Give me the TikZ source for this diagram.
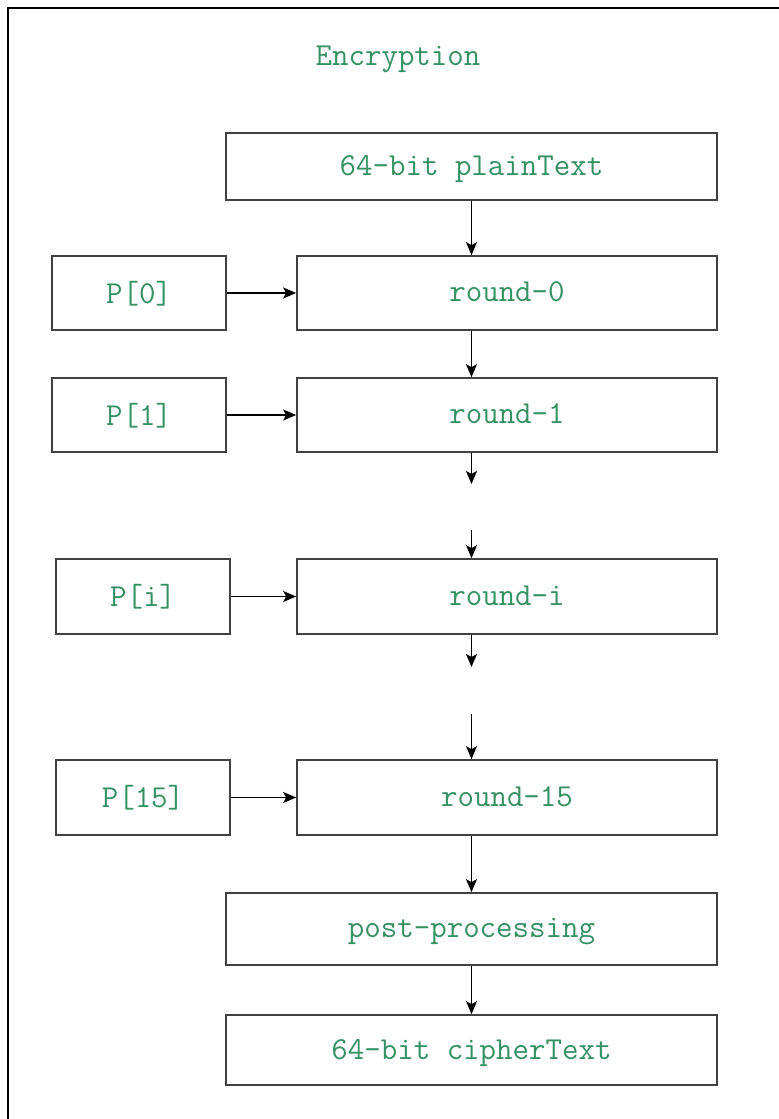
\documentclass[tikz,border=0pt]{standalone}
\usepackage{fontspec}
\usetikzlibrary{arrows.meta}
\definecolor{txtgreen}{RGB}{52,145,100}
\definecolor{boxgray}{RGB}{65,65,65}
\tikzset{
  lbl/.style={text=txtgreen, font=\ttfamily\fontsize{32}{34}\selectfont},
  blk/.style={draw=boxgray, line width=1.7pt, inner sep=0pt, anchor=center, lbl,
    text depth=2pt},
  keybox/.style={blk, minimum width=174pt, minimum height=74pt},
  roundbox/.style={blk, minimum width=420pt, minimum height=74pt},
  widebox/.style={blk, minimum width=491pt, minimum height=70pt},
  arr/.style={line width=1.6pt, -{Stealth[length=13pt,width=11pt,inset=3pt]}}
}
\begin{document}
\begin{tikzpicture}[x=1pt,y=-1pt]
\useasboundingbox (0,0) rectangle (779,1119);
\draw[line width=2pt] (8,1119) -- (8,8) -- (779,8);
\node[lbl] (title) at (398,59) {Encryption};
\node[widebox, minimum height=67pt] (plain) at (471.5,166.5) {64-bit plainText};
\node[keybox] (p0) at (139,293) {P[0]};
\node[roundbox] (r0) at (507,293) {round-0};
\node[keybox] (p1) at (139,415) {P[1]};
\node[roundbox] (r1) at (507,415) {round-1};
\node[keybox, minimum height=75pt] (pi) at (143,596.5) {P[i]};
\node[roundbox, minimum height=75pt] (ri) at (507,596.5) {round-i};
\node[keybox, minimum height=75pt] (p15) at (143,797.5) {P[15]};
\node[roundbox, minimum height=75pt] (r15) at (507,797.5) {round-15};
\node[widebox, minimum height=72pt] (post) at (471.5,929) {post-processing};
\node[widebox] (cipher) at (471.5,1050) {64-bit cipherText};
\coordinate (d1) at (471.5,484);
\coordinate (d2) at (471.5,530);
\coordinate (d3) at (471.5,667);
\coordinate (d4) at (471.5,714);
\draw[arr] (plain.south) -- (r0.north -| plain.south);
\draw[arr] (p0.east) -- (r0.west);
\draw[arr] (r0.south -| plain.south) -- (r1.north -| plain.south);
\draw[arr] (p1.east) -- (r1.west);
\draw[arr] (r1.south -| plain.south) -- (d1);
\draw[arr] (d2) -- (ri.north -| plain.south);
\draw[arr] (pi.east) -- (ri.west);
\draw[arr] (ri.south -| plain.south) -- (d3);
\draw[arr] (d4) -- (r15.north -| plain.south);
\draw[arr] (p15.east) -- (r15.west);
\draw[arr] (r15.south -| plain.south) -- (post.north);
\draw[arr] (post.south) -- (cipher.north);
\end{tikzpicture}
\end{document}
